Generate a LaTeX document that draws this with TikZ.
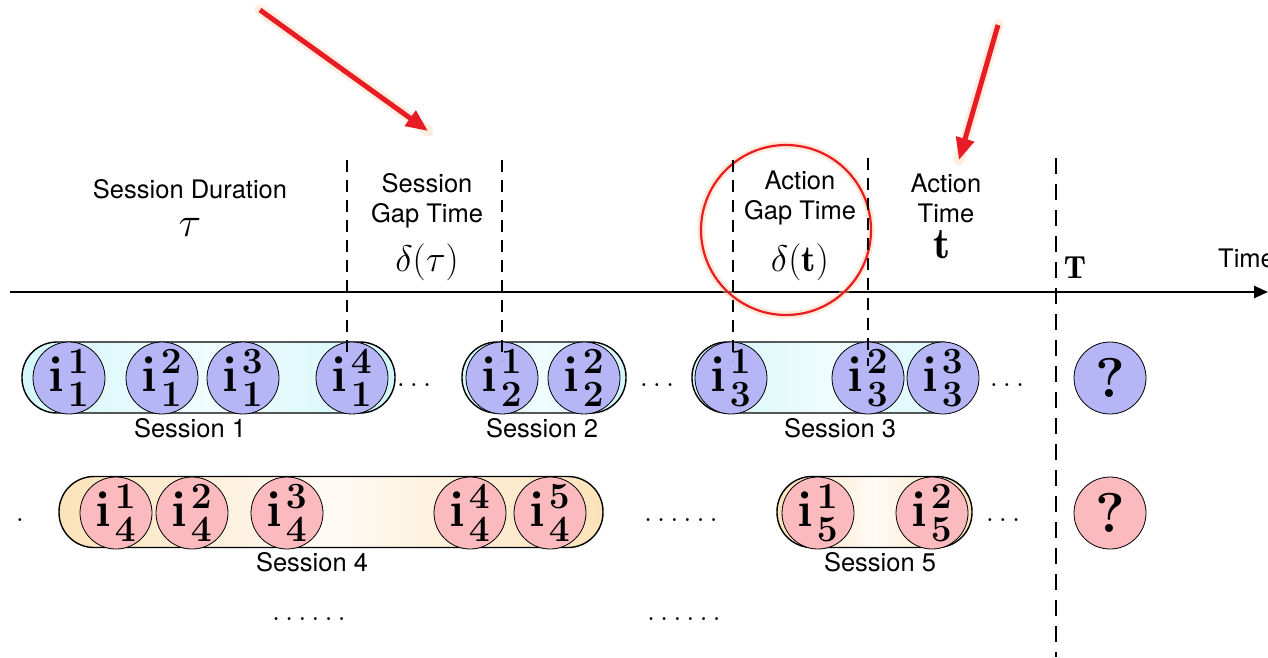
\RequirePackage{fix-cm}
\documentclass[tikz,border=0pt]{standalone}
\usepackage{fontspec}
\setsansfont{TeX Gyre Heros}
\usetikzlibrary{arrows.meta}
\DeclareMathSizes{50}{50}{37}{28}
\definecolor{itemblue}{RGB}{182,182,246}
\definecolor{itemred}{RGB}{250,186,190}
\definecolor{pillcyan}{RGB}{212,247,250}
\definecolor{pillpeach}{RGB}{252,226,185}
\definecolor{arrowred}{RGB}{232,28,36}
\definecolor{glowc}{RGB}{255,205,165}
\newcommand\itm[2]{$\mathbf{i}\mkern1mu^{#1}_{#2}$}
\begin{document}
\begin{tikzpicture}[x=1pt,y=-1pt,
  lbl/.style={font=\sffamily\fontsize{25.5}{30}\selectfont, align=center, inner sep=0},
  mth/.style={font=\fontsize{37}{40}\selectfont, inner sep=0},
  dotsn/.style={font=\fontsize{30}{30}\selectfont, inner sep=0, anchor=base},
  pill/.style={draw=black, line width=1.4pt, rounded corners=35pt, minimum height=71pt, inner sep=0},
  pillA/.style={pill, left color=pillcyan, right color=pillcyan, middle color=pillcyan!35},
  pillB/.style={pill, left color=pillpeach, right color=pillpeach, middle color=pillpeach!15},
  item/.style={circle, draw=black, line width=0.8pt, minimum size=72pt, inner sep=0, font=\fontsize{50}{50}\selectfont\boldmath},
  itemA/.style={item, fill=itemblue},
  itemB/.style={item, fill=itemred},
  qmark/.style={font=\fontsize{56}{56}\selectfont\bfseries},
  gapline/.style={line width=1.4pt, dash pattern=on 12pt off 8pt},
  nowline/.style={line width=2.6pt, dash pattern=on 16pt off 10pt},
  glowline/.style={glowc, line width=11pt, opacity=0.35, line cap=round},
  redarrow/.style={arrowred, line width=5pt, -{Triangle[length=22pt,width=18pt]}}
]
\useasboundingbox (0,0) rectangle (1268,657);

% red arrows
\coordinate (a1s) at (260,10);
\coordinate (a1e) at (428,131);
\coordinate (a2s) at (998,25);
\coordinate (a2e) at (959,160);
\draw[glowline] (a1s) -- (a1e);
\draw[glowline] (a2s) -- (a2e);
\draw[redarrow] (a1s) -- (a1e);
\draw[redarrow] (a2s) -- (a2e);

% header texts
\node[lbl] (sd) at (190,189) {Session Duration};
\node[mth, font=\fontsize{42}{44}\selectfont] (tau) at (190,227) {$\tau$};
\node[lbl] (sg) at (427,201) {Session\\Gap Time};
\node[mth] (dtau) at (427,262) {$\delta(\tau)$};
\node[lbl] (ag) at (800,198) {Action\\Gap Time};
\node[mth] (dt) at (800,262) {$\delta(\mathbf{t})$};
\node[lbl] (at) at (946,198) {Action\\Time};
\node[mth, font=\fontsize{44}{44}\selectfont] (tt) at (942,245) {$\mathbf{t}$};
\node[font=\fontsize{32}{32}\selectfont, inner sep=0] (TT) at (1075,268) {$\mathbf{T}$};
\node[lbl, anchor=west] (time) at (1218,258) {Time};

% time axis
\coordinate (ax0) at (10,292);
\coordinate (ax1) at (1268,292);
\draw[line width=2.6pt, -{Triangle[length=14pt,width=12pt]}] (ax0) -- (ax1);

% highlight circle
\coordinate (hc) at (786,230);
\draw[glowc, line width=7pt, opacity=0.45] (hc) circle (85);
\draw[arrowred, line width=2.2pt] (hc) circle (85);

% row 1 sessions
\node[pillA, minimum width=373pt] (s1) at (208.5,377.5) {};
\node[pillA, minimum width=164pt] (s2) at (544,377.5) {};
\node[pillA, minimum width=283pt] (s3) at (833.5,377.5) {};
\node[itemA] (i11) at (69,378) {\itm{1}{1}};
\node[itemA] (i12) at (162,378) {\itm{2}{1}};
\node[itemA] (i13) at (243,378) {\itm{3}{1}};
\node[itemA] (i14) at (352,378) {\itm{4}{1}};
\node[itemA] (i21) at (502,378) {\itm{1}{2}};
\node[itemA] (i22) at (584,378) {\itm{2}{2}};
\node[itemA] (i31) at (731,378) {\itm{1}{3}};
\node[itemA] (i32) at (868,378) {\itm{2}{3}};
\node[itemA] (i33) at (943,378) {\itm{3}{3}};
\node[itemA, qmark] (q1) at (1110,378) {?};
\node[lbl] (l1) at (190,428) {Session 1};
\node[lbl] (l2) at (542,428) {Session 2};
\node[lbl] (l3) at (840,428) {Session 3};
\node[dotsn] (d11) at (414,386) {$\ldots$};
\node[dotsn] (d12) at (657,386) {$\ldots$};
\node[dotsn] (d13) at (1007,386) {$\ldots$};

% row 2 sessions
\node[pillB, minimum width=544pt] (s4) at (331,512) {};
\node[pillB, minimum width=195pt] (s5) at (874.5,512) {};
\node[itemB] (i41) at (116,513) {\itm{1}{4}};
\node[itemB] (i42) at (192,513) {\itm{2}{4}};
\node[itemB] (i43) at (287,513) {\itm{3}{4}};
\node[itemB] (i44) at (470,513) {\itm{4}{4}};
\node[itemB] (i45) at (550,513) {\itm{5}{4}};
\node[itemB] (i51) at (818,513) {\itm{1}{5}};
\node[itemB] (i52) at (932,513) {\itm{2}{5}};
\node[itemB, qmark] (q2) at (1110,513) {?};
\node[lbl] (l4) at (312,562) {Session 4};
\node[lbl] (l5) at (880,562) {Session 5};
\node[dotsn] (d20) at (20,521) {$.$};
\node[dotsn] (d21) at (681,521) {$\ldots\ldots$};
\node[dotsn] (d22) at (1003,521) {$\ldots$};

% row 3
\node[dotsn] (d31) at (309,620) {$\ldots\ldots$};
\node[dotsn] (d32) at (684,620) {$\ldots\ldots$};

% dashed time markers
\coordinate (g1t) at (347,160); \coordinate (g1b) at (347,358);
\coordinate (g2t) at (502,160); \coordinate (g2b) at (502,360);
\coordinate (g3t) at (733,160); \coordinate (g3b) at (733,360);
\coordinate (g4t) at (868,158); \coordinate (g4b) at (868,366);
\coordinate (nt) at (1056,158); \coordinate (nb) at (1056,657);
\draw[gapline] (g1t) -- (g1b);
\draw[gapline] (g2t) -- (g2b);
\draw[gapline] (g3t) -- (g3b);
\draw[gapline] (g4t) -- (g4b);
\draw[nowline] (nt) -- (nb);
\end{tikzpicture}
\end{document}
